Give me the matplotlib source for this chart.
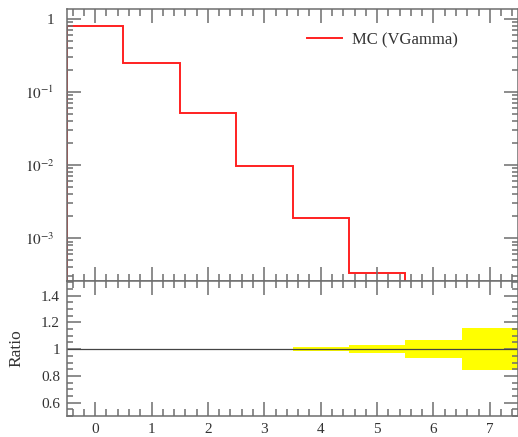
import numpy as np
import matplotlib.pyplot as plt
from matplotlib.ticker import MultipleLocator, LogLocator, FuncFormatter, NullFormatter

plt.rcParams['font.family'] = ['Liberation Serif', 'DejaVu Serif']
plt.rcParams['mathtext.fontset'] = 'stix'

# binned MC distribution (bins centred on integers)
bin_edges = [-0.5, 0.5, 1.5, 2.5, 3.5, 4.5, 5.5, 6.5, 7.5]
mc_values = [0.785, 0.251, 0.0506, 0.0097, 0.00186, 0.00033, 6.4e-5, 1.1e-5]
mc_rel_err = [0.0005, 0.001, 0.002, 0.004, 0.015, 0.029, 0.066, 0.158]
legend_label = 'MC (VGamma)'

edges = np.array(bin_edges)
vals = np.array(mc_values)
rel = np.array(mc_rel_err)
centers = 0.5 * (edges[:-1] + edges[1:])
widths = np.diff(edges)

W, H = 518, 437
fig = plt.figure(figsize=(W / 100, H / 100), dpi=100)
ax = fig.add_axes([67 / W, (H - 281) / H, 451 / W, (281 - 9.5) / H])
rax = fig.add_axes([67 / W, (H - 416) / H, 451 / W, 135 / H], sharex=ax)

spine_col = '#6e6e6e'
label_col = '#333333'

# main panel
ax.stairs(vals, edges, color='#ff2020', lw=1.4, label=legend_label)
ax.set_yscale('log')
ax.set_ylim(2.6e-4, 1.33)
ax.set_xlim(edges[0], edges[-1])

def log_fmt(v, pos):
    e = int(round(np.log10(v)))
    if e == 0:
        return '1'
    return r'$10^{%d}$' % e

ax.yaxis.set_major_locator(LogLocator(base=10, numticks=10))
ax.yaxis.set_minor_locator(LogLocator(base=10, subs=np.arange(2, 10), numticks=20))
ax.yaxis.set_major_formatter(FuncFormatter(log_fmt))
ax.yaxis.set_minor_formatter(NullFormatter())
ax.tick_params(labelbottom=False)

leg = ax.legend(loc='upper left', bbox_to_anchor=(0.499, 0.972), frameon=False,
                fontsize=12, handlelength=2.1, handletextpad=0.6)
for t in leg.get_texts():
    t.set_color(label_col)

# ratio panel
rax.bar(centers, 2 * rel, bottom=1 - rel, width=widths, color='#ffff00', edgecolor='none')
rax.axhline(1.0, color='#444444', lw=0.9)
rax.set_ylim(0.5, 1.51)
rax.yaxis.set_major_locator(MultipleLocator(0.2))
rax.yaxis.set_minor_locator(MultipleLocator(0.05))
rax.yaxis.set_major_formatter(FuncFormatter(lambda v, p: ('%g' % round(v, 2))))
rax.set_ylabel('Ratio', fontsize=12.5, color=label_col, labelpad=12)

for a in (ax, rax):
    a.xaxis.set_major_locator(MultipleLocator(1))
    a.xaxis.set_minor_locator(MultipleLocator(0.2))
    a.tick_params(which='both', direction='in', top=True, right=True,
                  color=spine_col, width=1.1, labelsize=11, labelcolor=label_col)
    a.tick_params(which='major', length=10)
    a.tick_params(which='minor', length=5)
    a.tick_params(axis='y', which='minor', length=4.5)
    for s in a.spines.values():
        s.set_color(spine_col)
        s.set_linewidth(1.1)

ax.tick_params(axis='y', which='major', pad=9)
rax.tick_params(axis='y', which='major', pad=5)
rax.tick_params(axis='x', pad=5)

fig.savefig('out.png', dpi=100)
